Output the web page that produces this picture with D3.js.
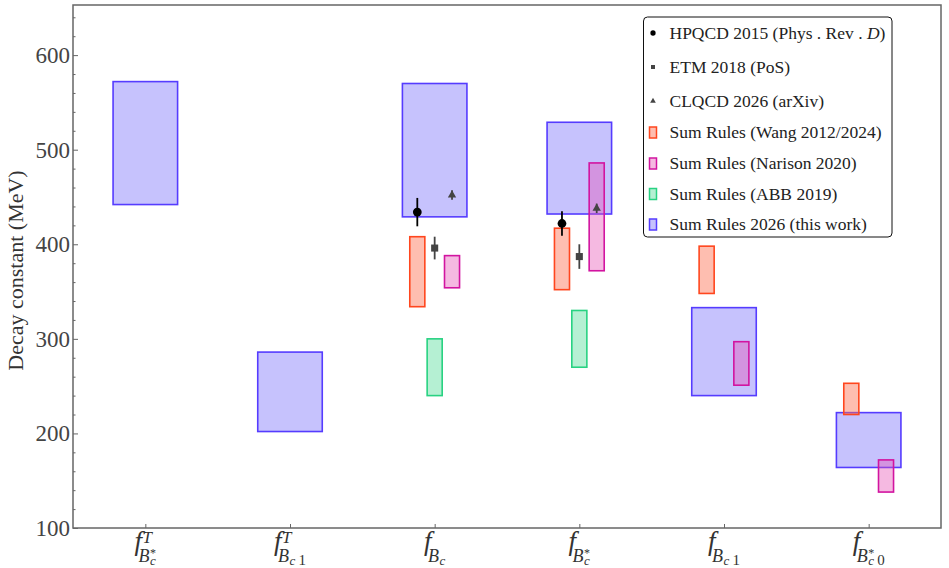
<!DOCTYPE html>
<html>
<head>
<meta charset="utf-8">
<script src="https://cdn.jsdelivr.net/npm/d3@7"></script>
<style>
  body { margin: 0; background: #fff; }
  text { font-family: "Liberation Serif", "DejaVu Serif", serif; }
</style>
</head>
<body>
<script>
var svg_width = 949;
var svg_height = 568;

// categories (1..6) : f^T_{Bc*}, f^T_{Bc1}, f_Bc, f_Bc*, f_Bc1, f_Bc0*
var catSup = ["T", "T", "", "", "", ""];
var catStar = [true, false, false, true, false, true];
var catNum = ["", "1", "", "", "1", "0"];

// Sum Rules 2026 (this work) : [low, high] per category
var thisWork = [[442, 572], [202, 286], [429, 570], [432, 529], [240, 333], [164, 222]];
// other sum rules: [category, low, high]
var wang = [[3, 334, 408], [4, 352, 417], [5, 348, 398], [6, 220, 253]];
var narison = [[3, 354, 388], [4, 372, 486], [5, 251, 297], [6, 138, 172]];
var abb = [[3, 240, 300], [4, 270, 330]];
// lattice: [category, value, error]
var hpqcd = [[3, 434, 15], [4, 422, 13]];
var etm = [[3, 396, 12], [4, 387, 13]];
var clqcd = [[3, 452, 5], [4, 438, 5]];

var yTicks = [100, 200, 300, 400, 500, 600];

var legendNames = ["HPQCD 2015 (Phys . Rev . ", "ETM 2018 (PoS)", "CLQCD 2026 (arXiv)",
  "Sum Rules (Wang 2012/2024)", "Sum Rules (Narison 2020)", "Sum Rules (ABB 2019)", "Sum Rules 2026 (this work)"];

var plotL = 73, plotR = 941, plotT = 5, plotB = 528;

var svg = d3.select("body").append("svg")
  .attr("width", svg_width)
  .attr("height", svg_height);

var x = d3.scaleLinear().domain([0.5, 6.5]).range([plotL, plotR]);
var y = d3.scaleLinear().domain([100, 653]).range([plotB, plotT]);
var px = x(1) - x(0); // pixels per category unit

// boxes
function drawBoxes(data, fill, opacity, stroke) {
  svg.append("g").selectAll("rect")
    .data(data)
    .enter()
    .append("rect")
    .attr("x", function (d) { return d.cx - d.w / 2; })
    .attr("y", function (d) { return y(d.hi); })
    .attr("width", function (d) { return d.w; })
    .attr("height", function (d) { return y(d.lo) - y(d.hi); })
    .attr("fill", fill)
    .attr("fill-opacity", opacity)
    .attr("stroke", stroke)
    .attr("stroke-width", 1.6);
}

drawBoxes(thisWork.map(function (d, i) {
  return { cx: x(i + 1), w: 0.446 * px, lo: d[0], hi: d[1] };
}), "rgb(120,110,250)", 0.42, "rgb(85,60,255)");

drawBoxes(abb.map(function (d) {
  return { cx: x(d[0]), w: 0.104 * px, lo: d[1], hi: d[2] };
}), "rgb(60,215,140)", 0.38, "rgb(40,210,130)");

drawBoxes(wang.map(function (d) {
  return { cx: x(d[0] - 0.12), w: 0.104 * px, lo: d[1], hi: d[2] };
}), "rgb(252,110,80)", 0.45, "rgb(255,70,30)");

drawBoxes(narison.map(function (d) {
  return { cx: x(d[0] + 0.12), w: 0.104 * px, lo: d[1], hi: d[2] };
}), "rgb(230,80,180)", 0.4, "rgb(210,20,160)");

// lattice points with error bars
function drawPoints(data, off, color, shape) {
  var g = svg.append("g");
  g.selectAll("line")
    .data(data)
    .enter()
    .append("line")
    .attr("x1", function (d) { return x(d[0] + off); })
    .attr("x2", function (d) { return x(d[0] + off); })
    .attr("y1", function (d) { return y(d[1] - d[2]); })
    .attr("y2", function (d) { return y(d[1] + d[2]); })
    .attr("stroke", color)
    .attr("stroke-width", 1.8);
  g.selectAll("path")
    .data(data)
    .enter()
    .append("path")
    .attr("transform", function (d) { return "translate(" + x(d[0] + off) + "," + y(d[1]) + ")"; })
    .attr("d", d3.symbol().type(shape.type).size(shape.size))
    .attr("fill", color);
}

drawPoints(hpqcd, -0.12, "#000", { type: d3.symbolCircle, size: 60 });
drawPoints(etm, 0, "#444", { type: d3.symbolSquare, size: 50 });
drawPoints(clqcd, 0.12, "#444", { type: d3.symbolTriangle, size: 30 });

// frame
svg.append("rect")
  .attr("x", plotL).attr("y", plotT)
  .attr("width", plotR - plotL).attr("height", plotB - plotT)
  .attr("fill", "none")
  .attr("stroke", "#666")
  .attr("stroke-width", 1.5);

// y axis
var yAxis = d3.axisLeft(y)
  .tickValues(yTicks)
  .tickSize(-5)
  .tickPadding(8)
  .tickFormat(d3.format("d"));

var gy = svg.append("g")
  .attr("transform", "translate(" + plotL + ",0)")
  .call(yAxis);
gy.select(".domain").remove();
gy.selectAll("line").attr("stroke", "#666");
gy.selectAll("text")
  .attr("x", -3)
  .attr("font-size", "23px")
  .attr("fill", "#444")
  .style("font-family", "Liberation Serif");

var yMinor = d3.axisLeft(y)
  .tickValues(d3.range(120, 653, 20).filter(function (v) { return v % 100 !== 0; }))
  .tickSize(-2.5)
  .tickFormat("");
var gym = svg.append("g")
  .attr("transform", "translate(" + plotL + ",0)")
  .call(yMinor);
gym.select(".domain").remove();
gym.selectAll("line").attr("stroke", "#666");

// x axis ticks
var xAxis = d3.axisBottom(x)
  .tickValues([1, 2, 3, 4, 5, 6])
  .tickSize(-4)
  .tickFormat("");
var gx = svg.append("g")
  .attr("transform", "translate(0," + plotB + ")")
  .call(xAxis);
gx.select(".domain").remove();
gx.selectAll("line").attr("stroke", "#666");

// x tick labels: f^T_{B_c^*} style math, one text with placed tspans
catSup.forEach(function (sup, i) {
  var g = svg.append("g").attr("fill", "#333");
  var t = g.append("text").attr("x", 0).attr("y", 0);
  t.append("tspan").attr("x", 0).attr("y", 0).attr("font-size", "27px")
    .attr("font-style", "italic").text("f");
  if (sup) {
    t.append("tspan").attr("x", 8).attr("y", -7).attr("font-size", "17px")
      .attr("font-style", "italic").text(sup);
  }
  t.append("tspan").attr("x", 4).attr("y", 12).attr("font-size", "18px")
    .attr("font-style", "italic").text("B");
  if (catStar[i]) {
    t.append("tspan").attr("x", 15.5).attr("y", 7).attr("font-size", "12px").text("*");
  }
  t.append("tspan").attr("x", 15.5).attr("y", 15).attr("font-size", "13px")
    .attr("font-style", "italic").text("c");
  if (catNum[i]) {
    t.append("tspan").attr("x", 24.5).attr("y", 15).attr("font-size", "15px").text(catNum[i]);
  }
  var bb = g.node().getBBox();
  g.attr("transform", "translate(" + (x(i + 1) - bb.x - bb.width / 2) + ",550)");
});

// y axis label
svg.append("text")
  .attr("transform", "translate(23," + ((plotT + plotB) / 2 + 4) + ") rotate(-90)")
  .attr("text-anchor", "middle")
  .attr("font-size", "22px")
  .attr("fill", "#333")
  .text("Decay constant (MeV)");

// legend
var lg = svg.append("g");
lg.append("rect")
  .attr("x", 643.5).attr("y", 17)
  .attr("width", 248.5).attr("height", 220)
  .attr("rx", 4)
  .attr("fill", "#fff")
  .attr("stroke", "#111")
  .attr("stroke-width", 1);

var rowY = [33, 67, 101, 132, 163, 193.5, 224];
var boxStyles = [
  { fill: "rgb(252,110,80)", op: 0.45, stroke: "rgb(255,70,30)" },
  { fill: "rgb(230,80,180)", op: 0.4, stroke: "rgb(210,20,160)" },
  { fill: "rgb(60,215,140)", op: 0.38, stroke: "rgb(40,210,130)" },
  { fill: "rgb(120,110,250)", op: 0.42, stroke: "rgb(85,60,255)" }
];
var markX = 653;

lg.append("path")
  .attr("transform", "translate(" + markX + "," + rowY[0] + ")")
  .attr("d", d3.symbol().type(d3.symbolCircle).size(22)).attr("fill", "#000");
lg.append("path")
  .attr("transform", "translate(" + markX + "," + rowY[1] + ")")
  .attr("d", d3.symbol().type(d3.symbolSquare).size(16)).attr("fill", "#444");
lg.append("path")
  .attr("transform", "translate(" + markX + "," + rowY[2] + ")")
  .attr("d", d3.symbol().type(d3.symbolTriangle).size(14)).attr("fill", "#444");

boxStyles.forEach(function (s, k) {
  lg.append("rect")
    .attr("x", markX - 3.5).attr("y", rowY[k + 3] - 5)
    .attr("width", 7).attr("height", 11)
    .attr("fill", s.fill).attr("fill-opacity", s.op)
    .attr("stroke", s.stroke).attr("stroke-width", 1.5);
});

legendNames.forEach(function (name, k) {
  var t = lg.append("text")
    .attr("x", 669.5)
    .attr("y", rowY[k] + 6)
    .attr("font-size", "17.5px")
    .attr("fill", "#222")
    .text(name);
  if (k === 0) {
    t.append("tspan").attr("font-style", "italic").text("D");
    t.append("tspan").text(")");
  }
});
</script>
</body>
</html>
